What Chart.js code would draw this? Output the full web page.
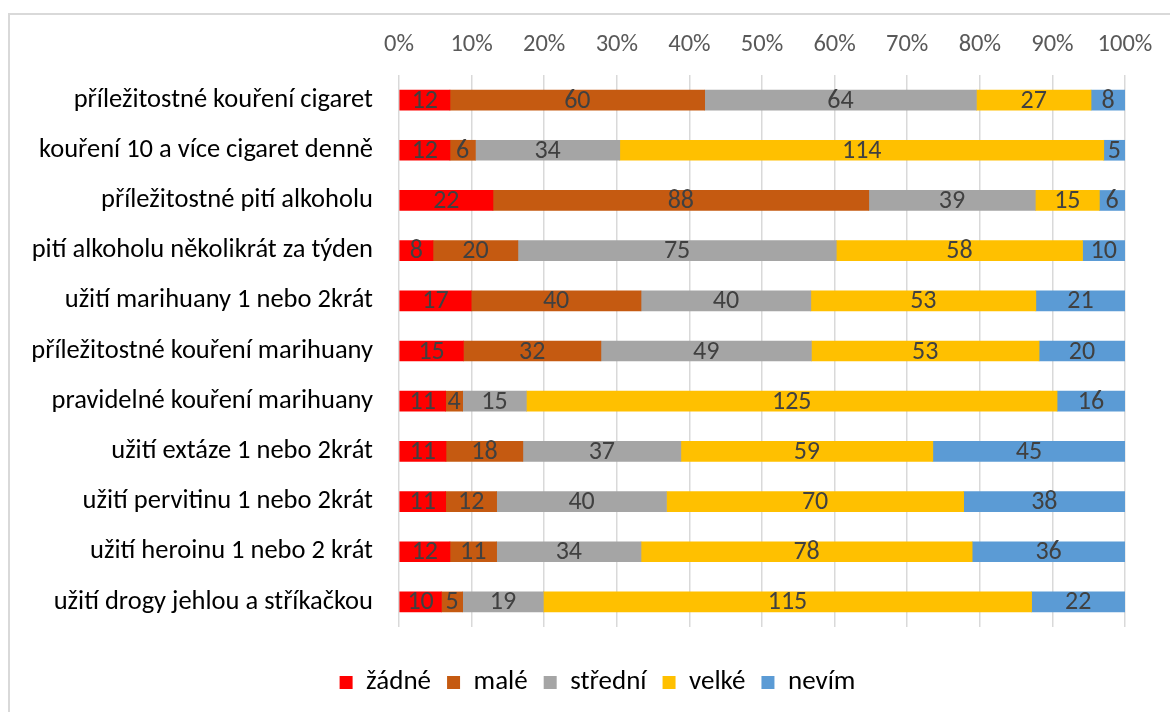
<!DOCTYPE html>
<html>
<head>
<meta charset="utf-8">
<script src="https://cdn.jsdelivr.net/npm/chart.js@4/dist/chart.umd.min.js"></script>
<style>
  html, body { margin: 0; padding: 0; background: #fff; }
  #wrap { width: 1170px; height: 712px; }
</style>
</head>
<body>
<div id="wrap"><canvas id="chart" width="1170" height="712"></canvas></div>
<script>
const categories = [
  'příležitostné kouření cigaret',
  'kouření 10 a více cigaret denně',
  'příležitostné pití alkoholu',
  'pití alkoholu několikrát za týden',
  'užití marihuany 1 nebo 2krát',
  'příležitostné kouření marihuany',
  'pravidelné kouření marihuany',
  'užití extáze 1 nebo 2krát',
  'užití pervitinu 1 nebo 2krát',
  'užití heroinu 1 nebo 2 krát',
  'užití drogy jehlou a stříkačkou'
];

const zadne   = [12, 12, 22,  8, 17, 15,  11, 11, 11, 12,  10];
const male    = [60,  6, 88, 20, 40, 32,   4, 18, 12, 11,   5];
const stredni = [64, 34, 39, 75, 40, 49,  15, 37, 40, 34,  19];
const velke   = [27, 114, 15, 58, 53, 53, 125, 59, 70, 78, 115];
const nevim   = [ 8,  5,  6, 10, 21, 20,  16, 45, 38, 36,  22];

const seriesNames = ['žádné', 'malé', 'střední', 'velké', 'nevím'];
const seriesColors = ['#FF0000', '#C55A11', '#A5A5A5', '#FFC000', '#5B9BD5'];
const tickLabels = ['0%', '10%', '20%', '30%', '40%', '50%', '60%', '70%', '80%', '90%', '100%'];

const allSeries = [zadne, male, stredni, velke, nevim];
const totals = categories.map((_, i) => allSeries.reduce((s, arr) => s + arr[i], 0));

const font = "Calibri, Carlito, 'Liberation Sans', Arial, sans-serif";

// draws the raw counts in the middle of each segment
const segmentLabels = {
  id: 'segmentLabels',
  afterDatasetsDraw(chart) {
    const ctx = chart.ctx;
    ctx.save();
    ctx.font = '26px ' + font;
    ctx.fillStyle = '#404040';
    ctx.textAlign = 'center';
    ctx.textBaseline = 'middle';
    chart.data.datasets.forEach((ds, di) => {
      const meta = chart.getDatasetMeta(di);
      meta.data.forEach((bar, i) => {
        const cx = (bar.x + bar.base) / 2;
        ctx.fillText(String(ds.raw[i]), cx, bar.y + 1);
      });
    });
    ctx.restore();
  }
};

// legend in the original sits a bit right of the canvas centre
const legendShift = {
  id: 'legendShift',
  afterLayout(chart) {
    if (chart.legend) {
      chart.legend.left += 35;
      chart.legend.right += 35;
    }
  }
};

// chart frame: only its top and left edges are inside the picture
const outerBorder = {
  id: 'outerBorder',
  afterDraw(chart) {
    const ctx = chart.ctx;
    ctx.save();
    ctx.strokeStyle = '#D9D9D9';
    ctx.lineWidth = 2;
    ctx.strokeRect(9, 14, chart.width + 50, chart.height + 50);
    ctx.restore();
  }
};

const datasets = allSeries.map((arr, k) => ({
  label: seriesNames[k],
  raw: arr,
  data: arr.map((v, i) => v / totals[i] * 100),
  backgroundColor: seriesColors[k],
  borderWidth: 0,
  barThickness: 20
}));

new Chart(document.getElementById('chart'), {
  type: 'bar',
  data: { labels: categories, datasets: datasets },
  plugins: [segmentLabels, legendShift, outerBorder],
  options: {
    indexAxis: 'y',
    responsive: false,
    animation: false,
    layout: { padding: { left: 0, right: 45, top: 0, bottom: 6 } },
    plugins: {
      legend: {
        position: 'bottom',
        labels: {
          boxWidth: 13,
          boxHeight: 13,
          padding: 16,
          color: '#000',
          font: { size: 27, family: font }
        }
      },
      tooltip: { enabled: false }
    },
    scales: {
      x: {
        position: 'top',
        stacked: true,
        min: 0,
        max: 100,
        afterFit: s => { s.height = 75; },
        afterBuildTicks: s => {
          s.ticks = tickLabels.map((t, i) => ({ value: i * 10 }));
        },
        ticks: {
          padding: 15,
          color: '#595959',
          font: { size: 24.5, family: font },
          callback: (v, i) => tickLabels[i]
        },
        grid: { color: '#D9D9D9', lineWidth: 1.5, drawTicks: false },
        border: { display: false }
      },
      // empty spacer between the plot and the legend
      x2: {
        position: 'bottom',
        min: 0,
        max: 100,
        afterFit: s => { s.height = 26; },
        ticks: { display: false },
        grid: { display: false, drawTicks: false },
        border: { display: false }
      },
      y: {
        stacked: true,
        afterFit: s => { s.width = 399; },
        ticks: {
          padding: 26,
          color: '#000',
          font: { size: 26.5, family: font }
        },
        grid: { display: false, drawTicks: false },
        border: { display: false }
      }
    }
  }
});
</script>
</body>
</html>
